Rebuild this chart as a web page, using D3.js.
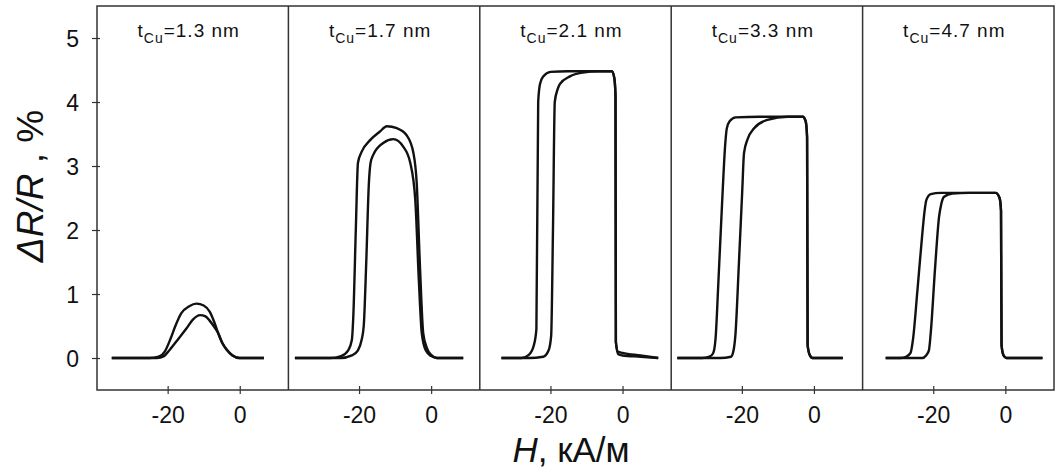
<!DOCTYPE html>
<html>
<head>
<meta charset="utf-8">
<script src="https://cdn.jsdelivr.net/npm/d3@7"></script>
<style>
  body { margin: 0; background: #fff; }
  svg { display: block; }
  text { font-family: "Liberation Sans", Arial, Helvetica, sans-serif; fill: #111; }
</style>
</head>
<body>
<svg id="chart" width="1057" height="471"></svg>
<script>
// Cu spacer thickness for each panel, nm
const tCu = ["1.3", "1.7", "2.1", "3.3", "4.7"];
const yTickValues = [0, 1, 2, 3, 4, 5];
const hTickValues = [-20, 0];

// Magnetoresistance loops: [H (kA/m), ΔR/R (%)], two sweep branches per panel
const loop13Upper = [[-35.5,0],[-25,0],[-22.5,0.02],[-20.8,0.1],[-19.2,0.3],[-18,0.48],[-16.2,0.7],[-14,0.81],[-12,0.85],[-10,0.82],[-8.3,0.72],[-7,0.55],[-6,0.39],[-4.8,0.23],[-3.6,0.13],[-2,0.04],[0,0],[6.7,0]];
const loop13Lower = [[-35.5,0],[-23,0],[-21,0.03],[-19.4,0.13],[-17,0.3],[-14.8,0.46],[-13,0.6],[-11,0.67],[-9.5,0.65],[-8.3,0.58],[-7,0.48],[-6,0.39],[-4.8,0.23],[-3.6,0.13],[-2,0.04],[0,0],[6.7,0]];

const loop17Upper = [[-37.8,0],[-28,0],[-25,0.03],[-23,0.12],[-22,0.28],[-21.6,0.64],[-20.9,2.0],[-20.3,3.05],[-19.3,3.22],[-17,3.4],[-14.2,3.54],[-12.3,3.62],[-9.5,3.59],[-6.8,3.48],[-4.9,3.2],[-4,2.73],[-3.1,1.43],[-2.2,0.39],[-1.2,0.16],[0,0.05],[1.6,0],[8.9,0]];
const loop17Lower = [[-37.8,0],[-25,0],[-22,0.04],[-20.3,0.12],[-19.3,0.28],[-18.7,0.5],[-18,1.5],[-17.3,2.7],[-16.8,3.05],[-16.1,3.17],[-13.3,3.36],[-10.5,3.42],[-7.7,3.3],[-5.8,3.05],[-4.4,2.47],[-3.4,1.2],[-2.6,0.39],[-1.5,0.12],[0,0.03],[1.6,0],[8.9,0]];

const loop21Upper = [[-33.6,0],[-28,0],[-26,0.05],[-24.6,0.2],[-23.9,0.45],[-23.4,4.0],[-22.9,4.28],[-22,4.4],[-20,4.47],[-15,4.48],[-3,4.48],[-2.3,4.38],[-1.95,4.1],[-1.85,0.25],[-1.3,0.1],[0,0.08],[5,0.04],[9.9,0]];
const loop21Lower = [[-33.6,0],[-26,0],[-22,0.02],[-20.5,0.12],[-19.8,0.35],[-19.3,2.0],[-18.8,4.0],[-18,4.2],[-17.4,4.28],[-14.6,4.4],[-11,4.46],[-7,4.48],[-3,4.48],[-2.3,4.38],[-1.95,4.1],[-1.85,0.25],[-1.2,0.06],[0,0.04],[5,0.02],[9.9,0]];

const loop33Upper = [[-37.9,0],[-31,0],[-29,0.02],[-28,0.07],[-27.3,0.3],[-26.5,1.2],[-25.5,2.4],[-24.6,3.35],[-24.2,3.58],[-23.4,3.7],[-21.7,3.76],[-15,3.77],[-3.1,3.77],[-2.3,3.7],[-1.9,3.45],[-1.75,0.2],[-1.2,0.05],[-0.4,0],[8,0]];
const loop33Lower = [[-37.9,0],[-26,0],[-23,0.02],[-22.3,0.12],[-21.8,0.35],[-20.8,1.5],[-19.9,2.6],[-19.4,3.2],[-18.4,3.42],[-16.6,3.59],[-12.9,3.72],[-7.3,3.77],[-3.1,3.77],[-2.3,3.7],[-1.9,3.45],[-1.75,0.2],[-1.2,0.05],[-0.4,0],[8,0]];

const loop47Upper = [[-33.2,0],[-29,0],[-27.5,0.02],[-26.3,0.08],[-25.6,0.3],[-24.4,1.05],[-23.1,1.9],[-22.4,2.3],[-21.9,2.47],[-20.7,2.56],[-18,2.58],[-2.7,2.58],[-1.6,2.5],[-1.2,2.3],[-1.05,0.2],[-0.5,0.04],[0.3,0],[10.3,0]];
const loop47Lower = [[-33.2,0],[-23,0],[-22,0.04],[-21.2,0.12],[-20.7,0.39],[-19.5,1.4],[-18.4,2.2],[-17.8,2.4],[-17,2.52],[-14.7,2.57],[-10,2.58],[-2.7,2.58],[-1.6,2.5],[-1.2,2.3],[-1.05,0.2],[-0.5,0.04],[0.3,0],[10.3,0]];

const panels = [
  { t: tCu[0], branches: [loop13Upper, loop13Lower] },
  { t: tCu[1], branches: [loop17Upper, loop17Lower] },
  { t: tCu[2], branches: [loop21Upper, loop21Lower] },
  { t: tCu[3], branches: [loop33Upper, loop33Lower] },
  { t: tCu[4], branches: [loop47Upper, loop47Lower] }
];

const svg = d3.select("#chart");
const frameLeft = 97, frameRight = 1054, frameTop = 6, frameBottom = 390;
const panelW = (frameRight - frameLeft) / panels.length;

const y = d3.scaleLinear().domain([-0.5, 5.5]).range([frameBottom, frameTop]);

// plain hyphen-minus for negative tick values
const tickText = d => String(d);

// shared vertical axis on the first panel
const yAxis = svg.append("g")
  .attr("transform", `translate(${frameLeft},0)`)
  .call(d3.axisLeft(y).tickValues(yTickValues).tickSize(4).tickPadding(14).tickFormat(tickText));
yAxis.select(".domain").remove();
yAxis.selectAll(".tick line").attr("x1", 3).attr("x2", -5).attr("stroke", "#333").attr("stroke-width", 1.2);
yAxis.selectAll(".tick text").attr("font-size", 23).attr("dy", "0.36em").attr("fill", "#111");

panels.forEach((p, i) => {
  const x0 = frameLeft + i * panelW;
  const x = d3.scaleLinear().domain([-39.6, 13.5]).range([x0, x0 + panelW]);
  const g = svg.append("g");

  const xAxis = g.append("g")
    .attr("transform", `translate(0,${frameBottom})`)
    .call(d3.axisBottom(x).tickValues(hTickValues).tickSize(4).tickPadding(13).tickFormat(tickText));
  xAxis.select(".domain").remove();
  xAxis.selectAll(".tick line").attr("y1", -4).attr("y2", 4).attr("stroke", "#333").attr("stroke-width", 1.2);
  xAxis.selectAll(".tick text").attr("font-size", 23).attr("fill", "#111");

  const line = d3.line()
    .x(d => x(d[0]))
    .y(d => y(d[1]))
    .curve(d3.curveMonotoneX);

  g.selectAll("path.loop")
    .data(p.branches)
    .join("path")
    .attr("class", "loop")
    .attr("d", line)
    .attr("fill", "none")
    .attr("stroke", "#111")
    .attr("stroke-width", 2.4)
    .attr("stroke-linejoin", "round");

  const label = g.append("text")
    .attr("x", x0 + panelW / 2 - 4)
    .attr("y", 37)
    .attr("text-anchor", "middle")
    .attr("font-size", 19)
    .attr("letter-spacing", 1);
  label.append("tspan").text("t");
  label.append("tspan").attr("font-size", 14).attr("dy", 6).text("Cu");
  label.append("tspan").attr("dy", -6).text(`=${p.t} nm`);
});

// panel frames
svg.append("rect")
  .attr("x", frameLeft).attr("y", frameTop)
  .attr("width", frameRight - frameLeft).attr("height", frameBottom - frameTop)
  .attr("fill", "none").attr("stroke", "#333").attr("stroke-width", 1.5);
svg.selectAll("line.divider")
  .data(d3.range(1, panels.length))
  .join("line")
  .attr("class", "divider")
  .attr("x1", i => frameLeft + i * panelW).attr("x2", i => frameLeft + i * panelW)
  .attr("y1", frameTop).attr("y2", frameBottom)
  .attr("stroke", "#333").attr("stroke-width", 1.5);

// axis titles
const yTitle = svg.append("text")
  .attr("transform", "translate(43,186) rotate(-90)")
  .attr("text-anchor", "middle")
  .attr("font-size", 37);
yTitle.append("tspan").attr("font-style", "italic").text("ΔR/R");
yTitle.append("tspan").text(" , %");

const xTitle = svg.append("text")
  .attr("x", 571).attr("y", 462)
  .attr("text-anchor", "middle")
  .attr("font-size", 35);
xTitle.append("tspan").attr("font-style", "italic").text("H");
xTitle.append("tspan").text(", кА/м");
</script>
</body>
</html>
